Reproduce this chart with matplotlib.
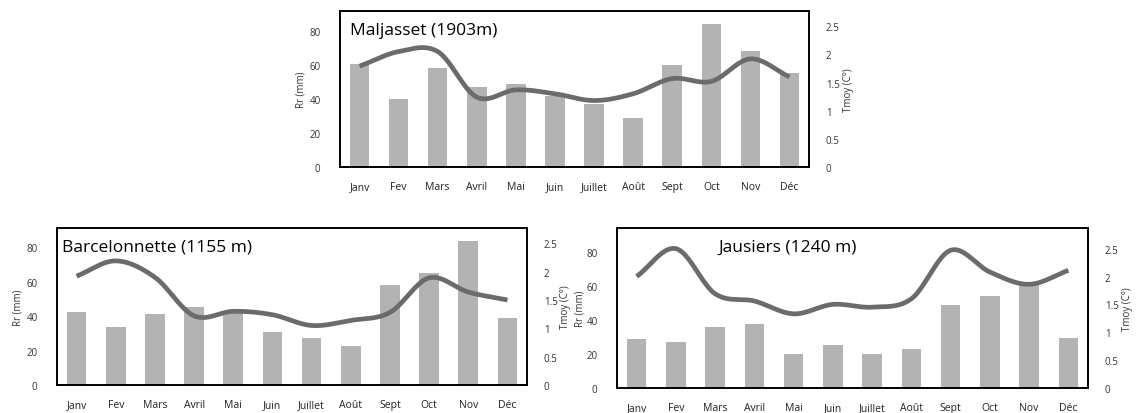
import numpy as np
import matplotlib.pyplot as plt

plt.rcParams['font.family'] = ['Open Sans', 'DejaVu Sans']

# month names used on every x axis
months = ['Janv', 'Fev', 'Mars', 'Avril', 'Mai', 'Juin',
          'Juillet', 'Août', 'Sept', 'Oct', 'Nov', 'Déc']

# Maljasset (1903 m)
maljasset_rain = [60.5, 40, 58.5, 46.9, 48.8, 42, 37, 29.1, 60.3, 84.3, 68.5, 55.3]
maljasset_temp = [1.79, 2.05, 2.05, 1.24, 1.37, 1.3, 1.18, 1.3, 1.57, 1.52, 1.92, 1.6]

# Barcelonnette (1155 m)
barcelonnette_rain = [42.6, 33.9, 41.3, 45.2, 41.7, 30.6, 27.1, 22.9, 58.1, 64.9, 83.5, 39]
barcelonnette_temp = [1.92, 2.19, 1.9, 1.22, 1.3, 1.24, 1.05, 1.14, 1.28, 1.89, 1.64, 1.5]

# Jausiers (1240 m)
jausiers_rain = [28.6, 27.1, 35.7, 37.8, 20.2, 25.5, 20.2, 22.7, 49, 54.1, 60.8, 29.4]
jausiers_temp = [2.0, 2.5, 1.69, 1.56, 1.33, 1.5, 1.45, 1.6, 2.47, 2.08, 1.86, 2.11]

rain_ticks = [0, 20, 40, 60, 80]
temp_ticks = [0, 0.5, 1, 1.5, 2, 2.5]

FIG_W, FIG_H = 1139, 414


def smooth(x, y, n=25):
    """Catmull-Rom curve through the monthly points (like an Excel smoothed line)."""
    x = np.asarray(x, dtype=float)
    y = np.asarray(y, dtype=float)
    px = np.concatenate([[2 * x[0] - x[1]], x, [2 * x[-1] - x[-2]]])
    py = np.concatenate([[2 * y[0] - y[1]], y, [2 * y[-1] - y[-2]]])
    xs, ys = [], []
    t = np.linspace(0, 1, n, endpoint=False)
    for i in range(1, len(px) - 2):
        for p, out in ((px, xs), (py, ys)):
            p0, p1, p2, p3 = p[i - 1], p[i], p[i + 1], p[i + 2]
            out.append(0.5 * (2 * p1 + (-p0 + p2) * t
                              + (2 * p0 - 5 * p1 + 4 * p2 - p3) * t ** 2
                              + (-p0 + 3 * p1 - 3 * p2 + p3) * t ** 3))
    xs.append([x[-1]])
    ys.append([y[-1]])
    return np.concatenate(xs), np.concatenate(ys)


def station(fig, box, rain, temp, title, title_x, rain_top, temp_top,
            left_lab=33, right_lab=34):
    """Draw one station: rain bars on the left axis, temperature curve on the right."""
    left, top, right, bottom = box
    w_px = right - left
    ax = fig.add_axes([left / FIG_W, 1 - bottom / FIG_H, w_px / FIG_W, (bottom - top) / FIG_H])
    x = np.arange(len(months))
    ax.bar(x, rain, width=0.5, color='#b3b3b3', zorder=1)
    ax.set_xlim(-0.5, len(months) - 0.5)
    ax.set_ylim(0, rain_top)
    ax.set_yticks(rain_ticks)
    ax.set_xticks(x)
    ax.set_xticklabels(months, fontsize=7.5, color='#222222')
    ax.tick_params(axis='x', length=0, pad=10)
    ax.tick_params(axis='y', length=0, pad=14, labelsize=7, labelcolor='#333333')
    ax.set_ylabel('Rr (mm)', fontsize=7, color='#333333')
    ax.yaxis.set_label_coords(-left_lab / w_px, 0.5)
    for s in ax.spines.values():
        s.set_linewidth(1.4)
        s.set_color('black')

    ax2 = ax.twinx()
    sx, sy = smooth(x, temp)
    ax2.plot(sx, sy, color='#6b6b6b', lw=3.4, solid_capstyle='butt', zorder=3)
    ax2.set_ylim(0, temp_top)
    ax2.set_yticks(temp_ticks)
    ax2.set_yticklabels(['0', '0.5', '1', '1.5', '2', '2.5'])
    ax2.tick_params(axis='y', length=0, pad=12, labelsize=7, labelcolor='#333333')
    ax2.set_ylabel('Tmoy (C°)', fontsize=7, color='#333333')
    ax2.yaxis.set_label_coords(1 + right_lab / w_px, 0.5)
    for s in ax2.spines.values():
        s.set_visible(False)

    ax.text(title_x / w_px, 0.88, title, transform=ax.transAxes,
            fontsize=12.5, color='black', va='center', ha='left', zorder=5)


fig = plt.figure(figsize=(FIG_W / 100, FIG_H / 100), dpi=100)

station(fig, (340, 12, 809, 168), maljasset_rain, maljasset_temp,
        'Maljasset (1903m)', 10, 92, 2.77)
station(fig, (57, 229, 527, 386), barcelonnette_rain, barcelonnette_temp,
        'Barcelonnette (1155 m)', 5, 91.2, 2.77, right_lab=33)
station(fig, (617, 229, 1088, 389), jausiers_rain, jausiers_temp,
        'Jausiers (1240 m)', 101, 94, 2.87, left_lab=32)

fig.savefig('out.png', dpi=100)
